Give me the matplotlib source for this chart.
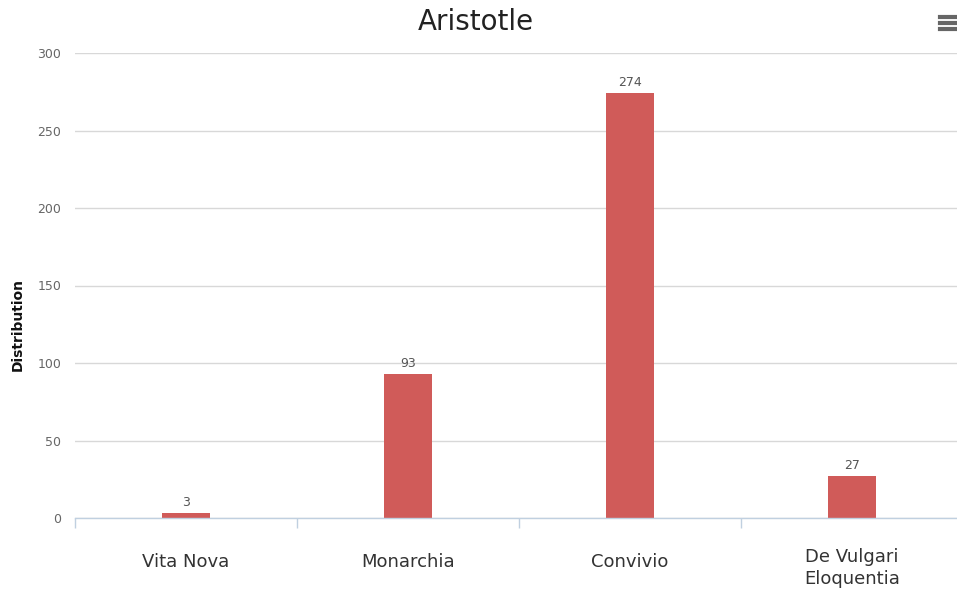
"""
Aristotle - distribution bar chart
"""
import matplotlib
matplotlib.use("Agg")
import matplotlib.pyplot as plt
import matplotlib.transforms as mtransforms
from matplotlib.lines import Line2D

# data
works = ["Vita Nova", "Monarchia", "Convivio", "De Vulgari\nEloquentia"]
counts = [3, 93, 274, 27]
y_ticks = [0, 50, 100, 150, 200, 250, 300]

bar_color = "#d05b59"
grid_color = "#d8d8d8"
axis_color = "#c0d0e0"

W, H = 957, 591
fig = plt.figure(figsize=(W / 100, H / 100), dpi=100)
plt.rcParams['font.family'] = ['DejaVu Sans']

# plot area in pixels: left 75, right 963, top 53, bottom 518
ax = fig.add_axes([75 / W, (H - 518) / H, 888 / W, 465 / H])

x = list(range(len(works)))
bars = ax.bar(x, counts, width=0.215, color=bar_color, zorder=3)

ax.set_xlim(-0.5, len(works) - 0.5)
ax.set_ylim(0, 300)
ax.set_yticks(y_ticks)
ax.set_yticklabels([str(v) for v in y_ticks], color="#666666", fontsize=9)
ax.tick_params(axis="y", length=0, pad=10)
ax.yaxis.grid(True, color=grid_color, linewidth=1, zorder=0)

for s in ["top", "right", "left"]:
    ax.spines[s].set_visible(False)
ax.spines["bottom"].set_color(axis_color)
ax.spines["bottom"].set_linewidth(1)
ax.spines["bottom"].set_zorder(4)

# category boundary ticks
ax.set_xticks([i - 0.5 for i in range(len(works) + 1)])
ax.set_xticklabels([])
ax.tick_params(axis="x", length=7, color=axis_color, width=1, direction="out")

# category labels
trans = mtransforms.blended_transform_factory(ax.transData, ax.transAxes)
for i, name in enumerate(works):
    nlines = name.count("\n") + 1
    off_px = 38 + 6 * nlines
    ax.annotate(name, xy=(i, 0), xycoords=trans, xytext=(0, -off_px * 0.72),
                textcoords="offset points", ha="center", va="center",
                fontsize=13, color="#333333", linespacing=1.3)

# value labels
for i, v in enumerate(counts):
    ax.annotate(str(v), xy=(i, v), xytext=(0, 3), textcoords="offset points",
                ha="center", va="bottom", fontsize=9, color="#555555")

# y axis title (sits a bit below the middle, like the original)
fig.text(18 / W, 1 - 325 / H, "Distribution", rotation=90, ha="center", va="center",
         fontsize=10, fontweight="bold", color="#111111")

fig.text(476 / W, 1 - 22 / H, "Aristotle", ha="center", va="center",
         fontsize=20, color="#222222")

# menu icon
for yy in [17, 23, 29]:
    fig.add_artist(Line2D([940 / W, 957 / W], [1 - yy / H, 1 - yy / H],
                          color="#666666", linewidth=3, transform=fig.transFigure))

fig.savefig("out.png", dpi=100)
